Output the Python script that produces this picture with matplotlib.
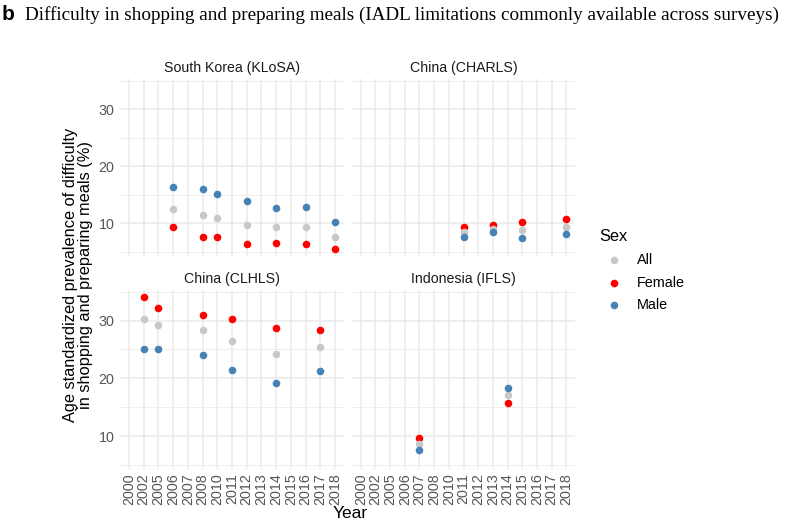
import numpy as np
import matplotlib
matplotlib.use("Agg")
import matplotlib.pyplot as plt
from matplotlib.ticker import MultipleLocator

plt.rcParams['font.family'] = ['Liberation Sans', 'DejaVu Sans']

# discrete year axis shared by all panels
years = ['2000', '2002', '2005', '2006', '2007', '2008', '2010', '2011',
         '2012', '2013', '2014', '2015', '2016', '2017', '2018']

# South Korea (KLoSA)
kor_years = ['2006', '2008', '2010', '2012', '2014', '2016', '2018']
kor_all = [12.5, 11.5, 11.0, 9.8, 9.4, 9.4, 7.6]
kor_female = [9.4, 7.7, 7.6, 6.4, 6.6, 6.4, 5.5]
kor_male = [16.3, 16.1, 15.1, 14.0, 12.7, 12.9, 10.2]

# China (CHARLS)
charls_years = ['2011', '2013', '2015', '2018']
charls_all = [8.5, 9.0, 8.8, 9.4]
charls_female = [9.4, 9.65, 10.2, 10.7]
charls_male = [7.7, 8.5, 7.5, 8.1]

# China (CLHLS)
clhls_years = ['2002', '2005', '2008', '2011', '2014', '2017']
clhls_all = [30.3, 29.3, 28.3, 26.4, 24.2, 25.4]
clhls_female = [34.1, 32.1, 31.0, 30.3, 28.8, 28.4]
clhls_male = [25.1, 25.0, 24.0, 21.5, 19.2, 21.3]

# Indonesia (IFLS)
ifls_years = ['2007', '2014']
ifls_all = [8.6, 17.1]
ifls_female = [9.6, 15.8]
ifls_male = [7.6, 18.3]

panels = [
    ("South Korea (KLoSA)", kor_years, kor_all, kor_female, kor_male),
    ("China (CHARLS)", charls_years, charls_all, charls_female, charls_male),
    ("China (CLHLS)", clhls_years, clhls_all, clhls_female, clhls_male),
    ("Indonesia (IFLS)", ifls_years, ifls_all, ifls_female, ifls_male),
]

col_all = '#C8C8C8'
col_female = '#FF0000'
col_male = '#4682B4'
grid_col = '#EBEBEB'
tick_col = '#555555'

W, H = 789, 523
fig = plt.figure(figsize=(W / 100, H / 100), dpi=100)

# panel boxes in pixels: left, top, right, bottom
boxes = [(120, 79, 344, 256), (352, 79, 575, 256),
         (120, 290, 344, 469), (352, 290, 575, 469)]

handles = None
for i, (name, yrs, a, f, m) in enumerate(panels):
    l, t, r, b = boxes[i]
    ax = fig.add_axes([l / W, 1 - b / H, (r - l) / W, (b - t) / H])
    xpos = [years.index(y) for y in yrs]
    h_f = ax.scatter(xpos, f, s=30, color=col_female, linewidths=0, zorder=3)
    h_a = ax.scatter(xpos, a, s=30, color=col_all, linewidths=0, zorder=3)
    h_m = ax.scatter(xpos, m, s=30, color=col_male, linewidths=0, zorder=3)
    handles = [h_a, h_f, h_m]

    ax.set_xlim(-0.6, len(years) - 0.4)
    ax.set_ylim(4.3, 35.3)
    ax.set_xticks(range(len(years)))
    ax.yaxis.set_major_locator(MultipleLocator(10))
    ax.yaxis.set_minor_locator(MultipleLocator(5))
    ax.grid(True, which='major', color=grid_col, lw=1.1)
    ax.grid(True, which='minor', axis='y', color=grid_col, lw=0.6)
    ax.set_axisbelow(True)
    for s in ax.spines.values():
        s.set_visible(False)
    ax.tick_params(which='both', length=0, colors=tick_col, labelsize=10.3)
    ax.tick_params(axis='y', pad=4)
    ax.tick_params(axis='x', pad=3)
    if i >= 2:
        ax.set_xticklabels(years, rotation=90)
    else:
        ax.set_xticklabels([])
    if i % 2 == 1:
        ax.set_yticklabels([])
    fig.text((l + r) / 2 / W, 1 - (t - 11) / H, name, ha='center', va='center',
             fontsize=10.2, color='#1A1A1A')

fig.text(350 / W, 1 - 513 / H, 'Year', ha='center', va='center', fontsize=12.5)
fig.text(78 / W, 1 - 275 / H,
         'Age standardized prevalence of difficulty\nin shopping and preparing meals (%)',
         ha='center', va='center', rotation=90, fontsize=11.8, linespacing=0.95)

fig.text(2 / W, 1 - 20 / H, 'b', fontweight='bold', fontsize=15, va='baseline')
fig.text(25 / W, 1 - 20 / H,
         'Difficulty in shopping and preparing meals (IADL limitations commonly available across surveys)',
         family=['Liberation Serif'], fontsize=13.8, va='baseline')

leg = fig.legend(handles, ['All', 'Female', 'Male'], title='Sex',
                 loc='upper left', bbox_to_anchor=(592 / W, 1 - 222 / H),
                 frameon=False, fontsize=10.4, title_fontsize=11.8,
                 handletextpad=0.6, labelspacing=0.6, borderpad=0)
leg._legend_box.align = 'left'

fig.savefig('out.png', dpi=100)
